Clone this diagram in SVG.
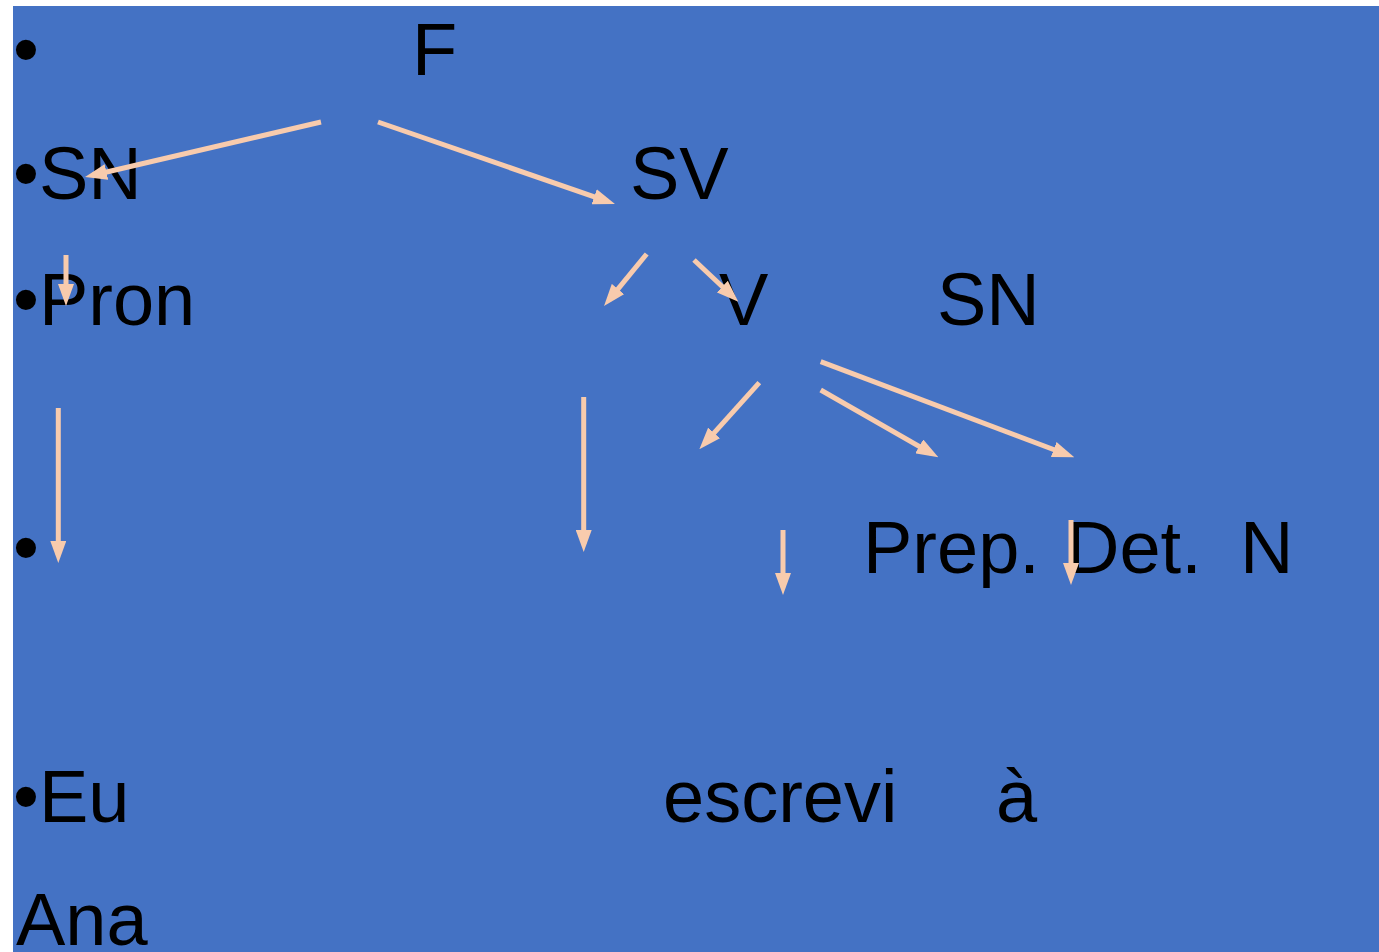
<svg xmlns="http://www.w3.org/2000/svg" width="1379" height="952" viewBox="0 0 1379 952">
<style>
.t{font-family:"Liberation Sans",Arial,sans-serif;font-size:74px;fill:#000}
.a{stroke:#F8CBAD;stroke-width:5;fill:none;marker-end:url(#ah)}
</style>
<defs>
<marker id="ah" markerUnits="userSpaceOnUse" markerWidth="22" markerHeight="16" refX="14" refY="8" orient="auto" viewBox="0 0 22 16">
<path d="M0,0 L22,8 L0,16 z" fill="#F8CBAD"/>
</marker>
</defs>
<rect x="0" y="0" width="1379" height="952" fill="#fff"/>
<rect x="13" y="6" width="1366" height="946" fill="#4472C4"/>
<g id="bullet1"><text class="t" x="13" y="75">•</text></g>
<g id="node-F"><text class="t" x="412" y="75">F</text></g>
<g id="node-SN1"><text class="t" x="13" y="199">•SN</text></g>
<g id="node-SV"><text class="t" x="630" y="199">SV</text></g>
<g id="node-Pron"><text class="t" x="13" y="325">•Pron</text></g>
<g id="node-V"><text class="t" x="719" y="325">V</text></g>
<g id="node-SN2"><text class="t" x="937" y="325">SN</text></g>
<g id="bullet4"><text class="t" x="13" y="573">•</text></g>
<g id="node-Prep"><text class="t" x="863" y="573">Prep.</text></g>
<g id="node-Det"><text class="t" x="1066" y="573">Det.</text></g>
<g id="node-N"><text class="t" x="1240" y="573">N</text></g>
<g id="node-Eu"><text class="t" x="13" y="822">•Eu</text></g>
<g id="node-escrevi"><text class="t" x="663" y="822">escrevi</text></g>
<g id="node-a"><text class="t" x="996" y="822">à</text></g>
<g id="node-Ana"><text class="t" x="16" y="945">Ana</text></g>
<g id="connectors">
<line class="a" x1="321" y1="122" x2="92.8" y2="175.2"/>
<line class="a" x1="378" y1="122" x2="607.4" y2="201.4"/>
<line class="a" x1="66" y1="255" x2="66" y2="298"/>
<line class="a" x1="646.7" y1="254" x2="609.1" y2="299.8"/>
<line class="a" x1="694" y1="260" x2="732.5" y2="296.2"/>
<line class="a" x1="759.3" y1="382.7" x2="704.7" y2="443.4"/>
<line class="a" x1="820.7" y1="390" x2="931.4" y2="453.3"/>
<line class="a" x1="820.7" y1="361.7" x2="1066.8" y2="454.5"/>
<line class="a" x1="58.3" y1="408" x2="58.3" y2="555"/>
<line class="a" x1="583.7" y1="397" x2="583.7" y2="544"/>
<line class="a" x1="783" y1="530" x2="783" y2="587"/>
<line class="a" x1="1071" y1="520" x2="1071" y2="577"/>
</g>
</svg>
